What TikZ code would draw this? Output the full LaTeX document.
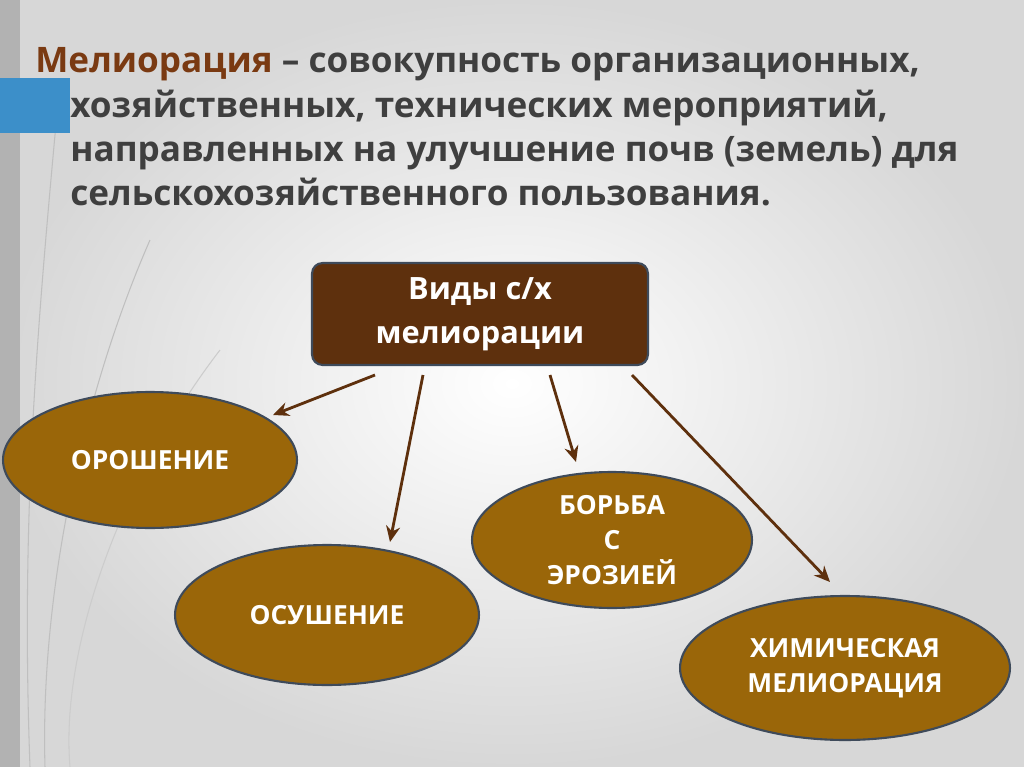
\documentclass[tikz,border=0pt]{standalone}
\usepackage{fontspec}
\setmainfont{Open Sans}
\usetikzlibrary{shapes.geometric,arrows.meta,positioning,calc}
\definecolor{bgray}{HTML}{EDEDED}
\definecolor{titlebrown}{HTML}{7A3A12}
\definecolor{titlegray}{HTML}{3F3F3F}
\definecolor{boxbrown}{HTML}{5E300D}
\definecolor{ellbrown}{HTML}{9A6609}
\definecolor{edgeblue}{HTML}{3E4A5A}
\definecolor{tabblue}{HTML}{3C8FC9}
\tikzset{
  x=0.02cm, y=-0.02cm,
  kind/.style={ellipse, draw=edgeblue, line width=1.2pt, fill=ellbrown, text=white,
    font=\bfseries\fontsize{15}{20}\selectfont, align=center, inner sep=0pt},
  arr/.style={-{Stealth[length=9pt,width=8pt]}, draw=boxbrown, line width=1.6pt},
  ttl/.style={anchor=base west, font=\bfseries\fontsize{20}{24}\selectfont, text=titlegray, inner sep=0pt}
}
\begin{document}
\begin{tikzpicture}
\useasboundingbox (0,0) rectangle (1024,767);
\shade[inner color=white, outer color=bgray!80!gray] (0,0) rectangle (1024,767);
\fill[gray!60] (0,0) rectangle (20,767);
% decorative lines
\draw[gray!50, line width=0.6pt] (60,80) .. controls (40,300) and (20,500) .. (30,767);
\draw[gray!50, line width=0.6pt] (150,240) .. controls (80,400) and (40,600) .. (45,767);
\draw[gray!40, line width=0.6pt] (220,350) .. controls (120,480) and (60,650) .. (70,767);
\fill[tabblue] (0,78) -- (70,78) -- (70,133) -- (0,133) -- cycle;
% title
\node[ttl] (t1) at (35,72) {\textcolor{titlebrown}{Мелиорация} – совокупность организационных,};
\node[ttl] (t2) at (70,117) {хозяйственных, технических мероприятий,};
\node[ttl] (t3) at (70,161) {направленных на улучшение почв (земель) для};
\node[ttl] (t4) at (70,205) {сельскохозяйственного пользования.};
% box
\node[draw=edgeblue, line width=1.2pt, fill=boxbrown, rounded corners=6pt, minimum width=6.72cm,
  minimum height=2.04cm, text=white, align=center, font=\bfseries\fontsize{17.5}{25}\selectfont]
  (vid) at (480,314) {Виды с/х\\мелиорации};
% kinds
\node[kind, minimum width=5.88cm, minimum height=2.72cm] (orosh) at (150,460) {ОРОШЕНИЕ};
\node[kind, minimum width=6.08cm, minimum height=2.8cm] (osush) at (327,615) {ОСУШЕНИЕ};
\node[kind, minimum width=5.6cm, minimum height=2.72cm] (borba) at (612,540) {БОРЬБА\\С\\ЭРОЗИЕЙ};
\node[kind, minimum width=6.6cm, minimum height=2.88cm] (chem) at (845,668) {ХИМИЧЕСКАЯ\\МЕЛИОРАЦИЯ};
% arrows
\coordinate (s1) at (375,375); \coordinate (e1) at (273,415);
\coordinate (s2) at (423,375); \coordinate (e2) at (390,542);
\coordinate (s3) at (550,375); \coordinate (e3) at (576,462);
\coordinate (s4) at (632,375); \coordinate (e4) at (830,582);
\foreach \i in {1,...,4} \draw[arr] (s\i) -- (e\i);
\end{tikzpicture}
\end{document}
